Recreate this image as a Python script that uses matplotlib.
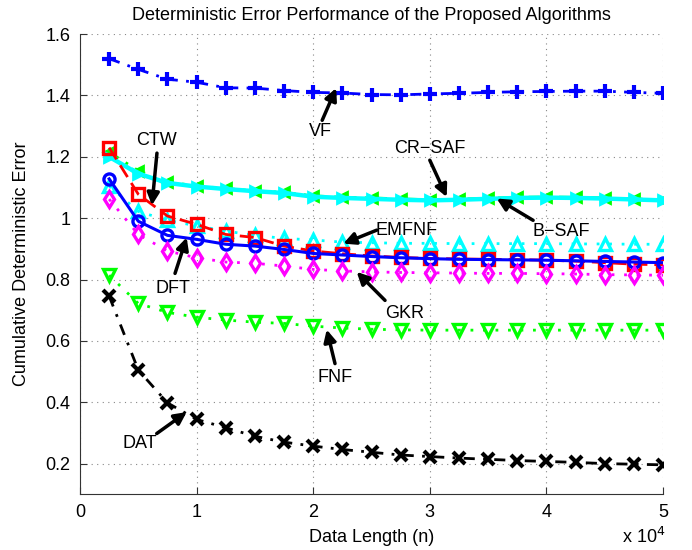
import matplotlib
matplotlib.use('Agg')
from matplotlib import pyplot as plt
from matplotlib.ticker import FuncFormatter

plt.rcParams['font.family'] = ['Liberation Sans', 'DejaVu Sans']

# data length n
n = [2500, 5000, 7500, 10000, 12500, 15000, 17500, 20000, 22500, 25000,
     27500, 30000, 32500, 35000, 37500, 40000, 42500, 45000, 47500, 50000]

vf = [1.52, 1.485, 1.453, 1.443, 1.425, 1.424, 1.416, 1.41, 1.408, 1.403,
      1.402, 1.405, 1.407, 1.41, 1.412, 1.413, 1.414, 1.414, 1.41, 1.407]
b_saf = [1.215, 1.155, 1.118, 1.105, 1.097, 1.089, 1.084, 1.073, 1.068, 1.066,
         1.063, 1.06, 1.062, 1.065, 1.068, 1.069, 1.068, 1.066, 1.063, 1.06]
cr_saf = [1.2, 1.145, 1.115, 1.103, 1.095, 1.088, 1.082, 1.07, 1.066, 1.063,
          1.06, 1.058, 1.06, 1.063, 1.066, 1.067, 1.066, 1.064, 1.061, 1.058]
ctw = [1.23, 1.078, 1.007, 0.98, 0.947, 0.937, 0.909, 0.893, 0.884, 0.877,
       0.872, 0.869, 0.867, 0.866, 0.865, 0.863, 0.86, 0.855, 0.85, 0.848]
emfnf = [1.105, 1.022, 0.993, 0.975, 0.958, 0.944, 0.934, 0.929, 0.922, 0.92,
         0.918, 0.918, 0.917, 0.917, 0.917, 0.917, 0.916, 0.916, 0.915, 0.915]
dft = [1.128, 0.99, 0.944, 0.931, 0.915, 0.909, 0.898, 0.885, 0.88, 0.875,
       0.871, 0.868, 0.866, 0.865, 0.864, 0.863, 0.861, 0.859, 0.857, 0.855]
gkr = [1.062, 0.947, 0.893, 0.871, 0.857, 0.853, 0.844, 0.833, 0.828, 0.825,
       0.823, 0.822, 0.821, 0.82, 0.82, 0.819, 0.818, 0.816, 0.815, 0.814]
fnf = [0.814, 0.722, 0.693, 0.677, 0.668, 0.661, 0.657, 0.648, 0.642, 0.638,
       0.636, 0.635, 0.635, 0.635, 0.635, 0.635, 0.635, 0.635, 0.635, 0.635]
dat = [0.746, 0.505, 0.398, 0.344, 0.317, 0.289, 0.27, 0.257, 0.246, 0.237,
       0.228, 0.223, 0.218, 0.214, 0.21, 0.207, 0.204, 0.2, 0.198, 0.196]

dot = (0, (1, 3.5))
dashdot = (0, (4, 3, 1, 3))
dash = (0, (5, 2.5))

fig = plt.figure(figsize=(6.92, 5.5), dpi=100)
ax = fig.add_axes([0.1156, 0.1013, 0.8425, 0.8367])

ax.plot(n, vf, color='b', ls=dashdot, lw=2, marker='+', ms=10, mew=3)
ax.plot(n, b_saf, color=(0, 1, 0), ls=dashdot, lw=2, marker='<', ms=7, mew=2)
ax.plot(n, cr_saf, color=(0, 1, 1), ls='-', lw=3.2, marker='>', ms=7, mew=2)
ax.plot(n, emfnf, color=(0, 1, 1), ls=dot, lw=2, marker='^', ms=9, mew=2.4, mfc='none')
ax.plot(n, ctw, color='r', ls=dash, lw=2, marker='s', ms=8, mew=2.4, mfc='none')
ax.plot(n, dft, color='b', ls='-', lw=2.2, marker='o', ms=8, mew=2.4, mfc='none')
ax.plot(n, gkr, color=(1, 0, 1), ls=dot, lw=2, marker='d', ms=8, mew=2.4, mfc='none')
ax.plot(n, fnf, color=(0, 1, 0), ls=dot, lw=2, marker='v', ms=9, mew=2.4, mfc='none')
ax.plot(n, dat, color='k', ls=dashdot, lw=2, marker='x', ms=8, mew=3)

ax.set_xlim(0, 50000)
ax.set_ylim(0.1, 1.6)
ax.set_xticks([0, 10000, 20000, 30000, 40000, 50000])
ax.set_yticks([0.2, 0.4, 0.6, 0.8, 1.0, 1.2, 1.4, 1.6])
ax.xaxis.set_major_formatter(FuncFormatter(lambda v, p: '%g' % (v / 1e4)))
ax.yaxis.set_major_formatter(FuncFormatter(lambda v, p: '%g' % v))
ax.tick_params(direction='in', labelsize=13, length=5, color='#333333', pad=7)
ax.grid(True, ls=(0, (1, 4)), color='#888888', lw=0.8)
for s in ['top', 'right']:
    ax.spines[s].set_visible(False)
for s in ['left', 'bottom']:
    ax.spines[s].set_color('#333333')

ax.set_title('Deterministic Error Performance of the Proposed Algorithms', fontsize=13, pad=10)
ax.set_xlabel('Data Length (n)', fontsize=13, labelpad=6)
ax.set_ylabel('Cumulative Deterministic Error', fontsize=13, labelpad=11)
fig.text(0.962, 0.012, r'x 10$^{4}$', ha='right', va='baseline', fontsize=13)

# text arrows: label, text pos, arrow tail, arrow tip
notes = [
    ('VF', (20600, 1.284), (20770, 1.319), (21970, 1.424)),
    ('CTW', (6600, 1.254), (6600, 1.212), (6170, 1.042)),
    ('DFT', (8000, 0.771), (8150, 0.82), (9150, 0.937)),
    ('CR\u2212SAF', (30000, 1.228), (30000, 1.189), (31450, 1.069)),
    ('B\u2212SAF', (41300, 0.955), (38860, 0.993), (35740, 1.064)),
    ('EMFNF', (28000, 0.961), (25450, 0.961), (22580, 0.917)),
    ('GKR', (27870, 0.689), (26160, 0.732), (23730, 0.825)),
    ('FNF', (21870, 0.482), (21870, 0.526), (21160, 0.637)),
    ('DAT', (5150, 0.265), (6580, 0.298), (9150, 0.368)),
]
for label, tpos, tail, tip in notes:
    ax.annotate('', xy=tip, xytext=tail,
                arrowprops=dict(arrowstyle='-|>', color='k', lw=2.5,
                                mutation_scale=18, shrinkA=0, shrinkB=0))
    ax.text(tpos[0], tpos[1], label, ha='center', va='center', fontsize=13)

fig.savefig('out.png', dpi=100)
